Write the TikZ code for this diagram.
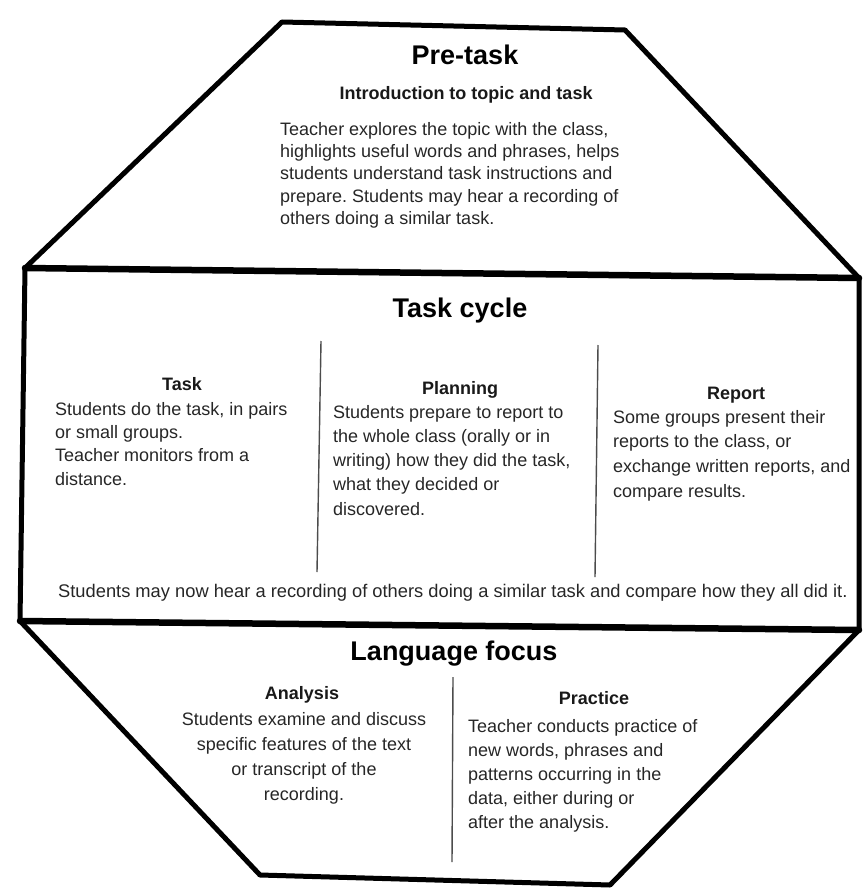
\documentclass[tikz,border=0pt]{standalone}
\usepackage{fontspec}
\setmainfont{Liberation Sans}
\usepackage{tikz}
\usetikzlibrary{positioning}
\frenchspacing
\tikzset{
    headnode/.style = {draw=none, fill=none, rectangle, inner sep = 0em, anchor=base, 
      font=\fontsize{27}{32}\selectfont\bfseries},
    subheadnode/.style = {draw=none, fill=none, rectangle, inner sep = 0em, anchor=base, 
      text=black!90, font=\fontsize{18}{22}\selectfont\bfseries},
    textnode/.style = {draw=none, fill=none, rectangle, inner sep = 0em, anchor=north west, 
      align=left, text=black!85, font=\fontsize{18}{#1}\selectfont},
    textnode/.default = 24,
    frameline/.style = {black, line width=5pt, line join=round},
    bandline/.style = {black, line width=6.5pt, line cap=round},
    divline/.style = {black!70, line width=1.4pt}
}

\begin{document}
\begin{tikzpicture}[x=1pt, y=-1pt]
    \useasboundingbox (0,0) rectangle (862,891);

    % corners of the octagon
    \coordinate (tl) at (282,22);
    \coordinate (tr) at (625,30);
    \coordinate (rt) at (859,278);
    \coordinate (rb) at (859,630);
    \coordinate (br) at (610,885);
    \coordinate (bl) at (260,875);
    \coordinate (lb) at (20,621);
    \coordinate (lt) at (25,268);

    \draw [frameline] (tl) -- (tr) -- (rt) -- (rb) -- (br) -- (bl) -- (lb) -- (lt) -- cycle;
    \draw [bandline] (lt) -- (rt);
    \draw [bandline] (lb) -- (rb);

    % pre-task
    \node [name=pretitle, headnode] at (465,65) {Pre-task};
    \node [name=presub, subheadnode] at (466,99) {Introduction to topic and task};
    \node [name=pretext, textnode=22.3] at (280,122) {Teacher explores the topic with the class,\\
        highlights useful words and phrases, helps\\students understand task instructions and\\
        prepare. Students may hear a recording of\\others doing a similar task.};

    % task cycle
    \node [name=cycletitle, headnode] at (460,317) {Task cycle};

    \node [name=tasksub, subheadnode] at (182,390) {Task};
    \node [name=tasktext, textnode=23.3] at (55,402) {Students do the task, in pairs\\
        or small groups.\\Teacher monitors from a\\distance.};

    \node [name=plansub, subheadnode] at (460,394) {Planning};
    \node [name=plantext, textnode=24.2] at (333,405) {Students prepare to report to\\
        the whole class (orally or in\\writing) how they did the task,\\what they decided or\\discovered.};

    \node [name=reportsub, subheadnode] at (736,399) {Report};
    \node [name=reporttext, textnode=24.7] at (613,410) {Some groups present their\\
        reports to the class, or\\exchange written reports, and\\compare results.};

    \node [name=cyclenote, textnode, anchor=base west, font=\fontsize{18.3}{24}\selectfont] at (58,597) 
        {Students may now hear a recording of others doing a similar task and compare how they all did it.};

    \coordinate (div1top) at (321,341);
    \coordinate (div1bot) at (317,572);
    \coordinate (div2top) at (598,345);
    \coordinate (div2bot) at (595,577);
    \draw [divline] (div1top) -- (div1bot);
    \draw [divline] (div2top) -- (div2bot);

    % language focus
    \node [name=focustitle, headnode] at (454,660) {Language focus};

    \node [name=analysissub, subheadnode] at (302,699) {Analysis};
    \node [name=analysistext, textnode=25, anchor=north, align=center] at (304,712) {Students examine and discuss\\
        specific features of the text\\or transcript of the\\recording.};

    \node [name=practicesub, subheadnode] at (594,704) {Practice};
    \node [name=practicetext, textnode=24] at (468,719) {Teacher conducts practice of\\
        new words, phrases and\\patterns occurring in the\\data, either during or\\after the analysis.};

    \coordinate (div3top) at (453,677);
    \coordinate (div3bot) at (452,862);
    \draw [divline] (div3top) -- (div3bot);
\end{tikzpicture}
\end{document}
